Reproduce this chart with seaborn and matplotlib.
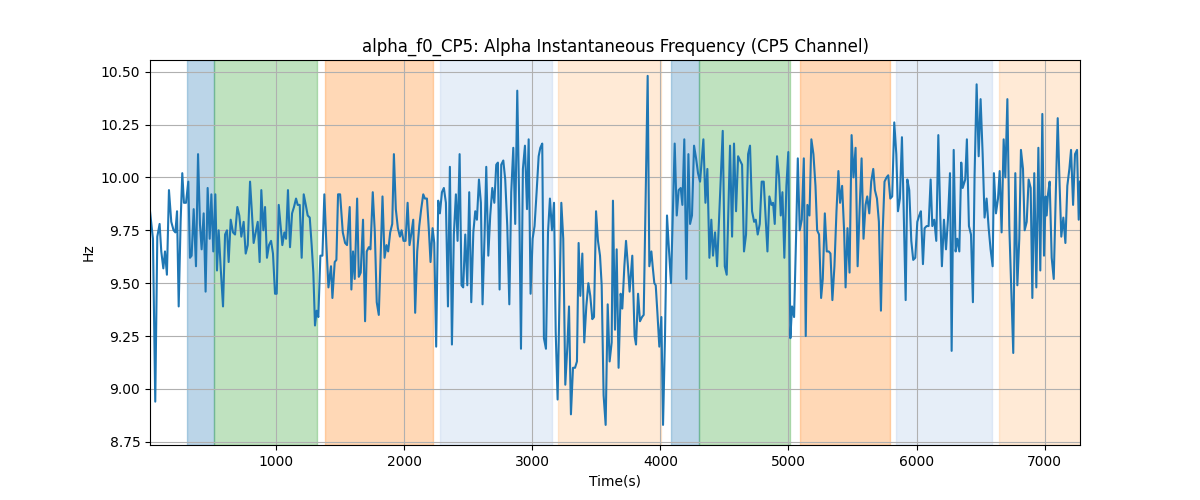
import matplotlib

matplotlib.use("Agg")
import matplotlib.pyplot as plt
import pandas as pd
import seaborn as sns

# time stamps (s) and alpha peak frequency (Hz)
time_s = [
    16, 39, 57, 73, 91, 104, 120, 133, 148, 164, 182, 200, 214, 227, 240, 255, 268, 281, 297, 315,
    328, 341, 357, 375, 391, 406, 419, 435, 450, 466, 482, 495, 510, 526, 539, 552, 568, 586, 602, 617,
    630, 646, 664, 680, 698, 713, 729, 747, 763, 779, 797, 810, 825, 841, 857, 872, 885, 901,
    914, 929, 945, 961, 976, 992, 1005, 1021, 1036, 1049, 1065, 1078, 1093, 1109, 1125, 1140, 1156,
    1169, 1185, 1200, 1216, 1232, 1247, 1263, 1278, 1291, 1304, 1317, 1330, 1346, 1362, 1377, 1393,
    1409, 1429, 1440, 1458, 1471, 1484, 1500, 1521, 1539, 1554, 1575, 1588, 1601, 1614, 1633, 1646,
    1661, 1679, 1695, 1708, 1724, 1737, 1755, 1771, 1786, 1802,
    1831, 1847, 1862, 1875, 1891, 1907, 1920, 1935, 1951, 1967, 1980, 1995, 2011, 2027, 2042, 2055,
    2071, 2086, 2102, 2118, 2133, 2149, 2162, 2178, 2193, 2206, 2222, 2235, 2250, 2266, 2279, 2295,
    2310, 2326, 2342, 2357, 2373, 2388, 2404, 2417, 2433, 2448, 2461, 2477, 2493, 2508, 2524, 2540,
    2555, 2568, 2584, 2599, 2612, 2628, 2641, 2657, 2672, 2688, 2704, 2719,
    2732, 2745, 2758, 2774, 2789, 2805, 2821, 2836, 2852, 2867, 2883, 2899, 2912, 2927, 2943, 2959,
    2972, 2987, 3003, 3018, 3034, 3050, 3063, 3078, 3091, 3107, 3123, 3138, 3154, 3170, 3183, 3198,
    3214, 3227, 3242, 3258, 3274, 3287, 3302, 3318, 3334, 3349, 3362, 3375, 3391, 3406, 3422, 3438,
    3453, 3469, 3482, 3498, 3513, 3529, 3542, 3557, 3573, 3589, 3604, 3620, 3630,
    3646, 3659, 3674, 3690, 3703, 3719, 3732, 3747, 3760, 3781, 3799, 3810, 3826, 3841, 3857, 3870,
    3901, 3914, 3930, 3940, 3953, 3964, 3977, 3992, 4008, 4021, 4036, 4052, 4068, 4083, 4112, 4128,
    4143, 4159, 4172, 4187, 4203, 4219, 4232, 4247, 4263, 4279, 4294, 4310, 4336, 4352, 4367, 4383,
    4398, 4411, 4427, 4443, 4458, 4487, 4503, 4518,
    4544, 4560, 4575, 4591, 4607, 4622, 4638, 4653, 4669, 4685, 4700, 4716, 4732, 4745, 4760, 4776,
    4791, 4807, 4823, 4836, 4851, 4867, 4880, 4893, 4911, 4927, 4940, 4953, 4968, 4984, 4999, 5015,
    5028, 5044, 5060, 5073, 5088, 5104, 5120, 5135, 5148, 5164, 5179, 5195, 5211, 5224, 5239, 5255,
    5268, 5284, 5299, 5315, 5328, 5343, 5359, 5375, 5390, 5403, 5419, 5435,
    5446, 5461, 5477, 5493, 5508, 5524, 5540, 5555, 5571, 5586, 5602, 5615, 5631, 5646, 5662, 5675,
    5691, 5706, 5722, 5735, 5750, 5766, 5779, 5795, 5810, 5826, 5842, 5855, 5870, 5886, 5899, 5915,
    5928, 5943, 5959, 5974, 5990, 6006, 6021, 6034, 6050, 6063, 6079, 6094, 6110, 6123, 6138, 6154,
    6170, 6185, 6198, 6214, 6230, 6245, 6261, 6274, 6290, 6305, 6318, 6334, 6349,
    6360, 6380, 6393, 6409, 6425, 6440, 6453, 6469, 6485, 6500, 6516, 6531, 6547, 6563, 6578, 6594,
    6604, 6620, 6636, 6649, 6664, 6680, 6693, 6709, 6724, 6740, 6755, 6771, 6787, 6802, 6815, 6831,
    6844, 6860, 6875, 6891, 6904, 6919, 6935, 6951, 6966, 6982, 6995, 7008, 7016, 7026, 7039, 7055,
    7071, 7086, 7102, 7117, 7130, 7146, 7162, 7177, 7193, 7206, 7222, 7237, 7253, 7266, 7276,
]
alpha_hz = [
    9.84, 9.71, 8.94, 9.72, 9.78, 9.65, 9.57, 9.65, 9.54, 9.94, 9.79, 9.75, 9.74, 9.84, 9.39, 9.79,
    10.02, 9.88, 9.88, 9.98, 9.62, 9.63, 9.85, 9.58, 10.11, 9.78, 9.66, 9.83, 9.46, 9.95, 9.71, 9.92,
    9.65, 9.92, 9.56, 9.75, 9.57, 9.39, 9.73, 9.75, 9.60, 9.80, 9.74, 9.73, 9.86, 9.82, 9.72, 9.79,
    9.64, 9.68, 9.98, 9.85, 9.69, 9.74, 9.79, 9.60, 9.94, 9.75,
    9.86, 9.62, 9.68, 9.70, 9.64, 9.45, 9.45, 9.87, 9.77, 9.68, 9.74, 9.71, 9.94, 9.67, 9.83, 9.86,
    9.90, 9.87, 9.87, 9.62, 9.92, 9.87, 9.82, 9.81, 9.68, 9.55, 9.30, 9.37, 9.34, 9.63, 9.63, 9.92,
    9.68, 9.48, 9.58, 9.43, 9.60, 9.61, 9.92, 9.92, 9.74, 9.69, 9.68, 9.86, 9.47, 9.65, 9.52, 9.90,
    9.53, 9.55, 9.80, 9.32, 9.65, 9.67, 9.66, 9.93, 9.74, 9.41, 9.35,
    9.91, 9.62, 9.68, 9.65, 9.74, 9.78, 10.11, 9.85, 9.76, 9.72, 9.75, 9.70, 9.70, 9.88, 9.68, 9.73,
    9.80, 9.36, 9.65, 9.77, 9.85, 9.92, 9.90, 9.90, 9.75, 9.60, 9.76, 9.69, 9.20, 9.89, 9.83, 9.93,
    9.95, 9.88, 9.39, 10.05, 9.21, 9.73, 9.92, 9.70, 10.11, 9.49, 9.48, 9.73, 9.49, 9.93, 9.41, 9.74,
    9.84, 9.80, 9.99, 9.88, 9.40, 9.73, 10.05, 9.63, 9.82, 9.95, 9.88, 10.06,
    10.07, 9.47, 10.06, 10.08, 9.99, 9.77, 9.40, 9.93, 10.14, 9.78, 10.41, 9.85, 9.19, 10.04, 10.15,
    9.85, 10.18, 9.45, 9.71, 9.77, 9.93, 10.10, 10.14, 10.16, 9.24, 9.19, 9.74, 9.90, 9.75, 9.88,
    9.27, 8.95, 9.46, 9.88, 9.71, 9.02, 9.20, 9.39, 8.88, 9.10, 9.10, 9.13, 9.69, 9.44, 9.64, 9.22,
    9.39, 9.50, 9.44, 9.33, 9.34, 9.84, 9.70, 9.63, 9.49, 8.97, 8.83, 9.40, 9.13, 9.22, 9.89,
    9.28, 9.66, 9.10, 9.45, 9.38, 9.58, 9.70, 9.58, 9.46, 9.63, 9.25, 9.21, 9.45, 9.32, 9.34, 9.35,
    10.48, 9.58, 9.65, 9.58, 9.50, 9.49, 9.36, 9.20, 9.34, 8.83, 9.24, 9.82, 9.65, 9.50, 10.16, 9.82,
    9.94, 9.95, 9.87, 10.18, 9.52, 10.11, 9.78, 9.82, 10.15, 10.09, 10.02, 9.98, 10.18, 9.88, 10.04,
    9.62, 9.80, 9.63, 9.74, 9.58, 9.80, 10.22, 9.58, 9.54,
    10.15, 9.72, 10.16, 9.84, 10.10, 10.08, 10.06, 9.65, 9.73, 10.11, 10.15, 9.84, 9.79, 9.80, 9.73,
    9.78, 9.98, 9.98, 9.80, 9.65, 9.91, 9.87, 9.88, 9.78, 10.10, 10.00, 9.82, 9.93, 9.62, 9.96,
    10.12, 9.24, 9.39, 9.34, 9.73, 10.09, 9.75, 9.80, 10.09, 9.25, 9.87, 9.82, 10.18, 10.11, 9.96,
    9.75, 9.73, 9.43, 9.52, 9.83, 9.65, 9.65, 9.64, 9.42, 9.58, 9.84, 10.03, 9.88, 9.96, 9.74,
    9.48, 9.76, 9.55, 10.20, 10.00, 10.14, 9.58, 9.84, 10.09, 9.71, 9.87, 9.91, 9.83, 9.98, 10.04,
    9.94, 9.90, 9.79, 9.37, 9.73, 9.98, 10.00, 10.01, 9.90, 9.91, 10.26, 10.11, 9.84, 9.90, 10.19,
    9.86, 9.42, 9.99, 9.94, 9.70, 9.61, 9.62, 9.79, 9.82, 9.84, 9.59, 9.76, 9.77, 9.77, 9.99,
    9.77, 9.80, 9.70, 10.20, 9.82, 9.58, 9.80, 9.66, 9.80, 10.02, 9.18, 10.13, 9.65, 9.71, 9.65, 10.07,
    9.95, 9.99, 10.18, 9.77, 9.73, 9.41, 10.01, 10.44, 10.10, 10.37, 10.11, 9.81, 9.90, 9.76, 9.66,
    9.58, 10.02, 9.83, 9.90, 10.03, 9.74, 10.18, 10.00, 10.37, 9.77, 9.46, 9.17, 10.02, 9.49, 9.71,
    10.13, 10.04, 9.75, 9.79, 9.99, 9.95, 9.43, 10.02, 9.48, 10.14, 9.56, 10.30, 9.63, 9.91, 9.82,
    9.92, 9.98, 9.62, 9.52, 9.90, 10.28, 9.96, 9.72, 9.81, 9.69, 9.96, 10.04, 10.13, 9.87, 10.11,
    10.13, 9.80, 9.98,
]

# shaded task blocks
span_start = [305, 513, 1383, 2281, 3203, 4086, 4299, 5094, 5836, 6641]
span_end = [513, 1318, 2224, 3154, 4005, 4299, 5013, 5794, 6591, 7400]
span_color = ["tab:blue", "tab:green", "tab:orange", "#aec7e8", "#ffbb78",
              "tab:blue", "tab:green", "tab:orange", "#aec7e8", "#ffbb78"]

df = pd.DataFrame({"time": time_s, "hz": alpha_hz})

fig, ax = plt.subplots(figsize=(12, 5), dpi=100)
for s, e, c in zip(span_start, span_end, span_color):
    ax.axvspan(s, e, color=c, alpha=0.3)
sns.lineplot(data=df, x="time", y="hz", color="tab:blue", lw=1.5, ax=ax)
ax.set_xlim(df.time.min(), df.time.max())
ax.set_ylim(8.735, 10.555)
ax.grid(True)
ax.set_title("alpha_f0_CP5: Alpha Instantaneous Frequency (CP5 Channel)")
ax.set_xlabel("Time(s)")
ax.set_ylabel("Hz")
fig.savefig("out.png")
